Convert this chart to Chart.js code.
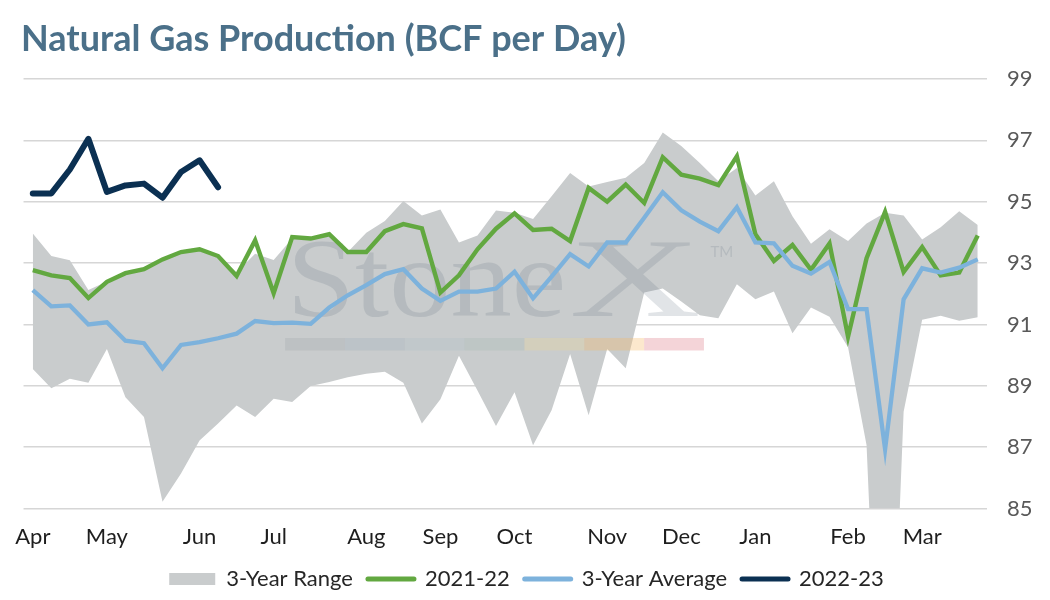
<!DOCTYPE html>
<html>
<head>
<meta charset="utf-8">
<script src="https://cdn.jsdelivr.net/npm/chart.js@4.4.1/dist/chart.umd.min.js"></script>
<style>
html,body{margin:0;padding:0;background:#ffffff;}
#wrap{width:1050px;height:600px;position:relative;}
</style>
</head>
<body>
<div id="wrap"><canvas id="c"></canvas></div>
<script>
// ---- DATA ----
const categories = [
  'Apr','','','','May','','','','','Jun','','','','Jul','','','','','Aug','','','',
  'Sep','','','','Oct','','','','','Nov','','','','Dec','','','','Jan','','','','',
  'Feb','','','','Mar','','',''
];
const rangeMax = [
  93.96,93.23,93.09,92.12,92.40,92.66,92.78,93.10,93.34,93.43,93.22,92.70,93.30,
  93.10,93.80,93.78,93.90,93.36,93.99,94.37,95.02,94.55,94.75,93.67,93.90,94.71,
  94.64,94.44,95.18,95.94,95.50,95.64,95.78,96.26,97.26,96.82,96.26,95.67,96.10,
  95.20,95.67,94.53,93.63,94.10,93.72,94.29,94.64,94.55,93.77,94.17,94.69,94.24
];
const rangeMin = [
  89.55,88.92,89.23,89.10,90.20,88.63,87.98,85.22,86.14,87.22,87.77,88.36,87.98,
  88.58,88.47,88.99,89.12,89.28,89.39,89.46,89.10,87.77,88.56,89.98,88.85,87.69,
  88.79,87.06,88.20,90.04,88.04,90.20,89.57,92.04,92.17,91.75,91.30,91.20,92.31,
  91.82,92.07,90.71,91.55,91.25,90.26,87.06,73.00,88.15,91.15,91.28,91.12,91.23
];
const prod2021_22 = [
  92.77,92.60,92.51,91.86,92.39,92.67,92.80,93.12,93.36,93.45,93.23,92.58,93.74,
  92.02,93.85,93.80,93.94,93.36,93.36,94.04,94.27,94.13,92.04,92.60,93.45,94.12,
  94.62,94.08,94.12,93.72,95.45,95.00,95.56,94.96,96.45,95.88,95.75,95.54,96.48,
  93.94,93.07,93.59,92.78,93.64,90.60,93.16,94.67,92.71,93.52,92.60,92.69,93.90
];
const avg3Year = [
  92.12,91.59,91.62,91.00,91.07,90.47,90.39,89.57,90.33,90.42,90.55,90.70,91.11,
  91.04,91.06,91.02,91.55,91.95,92.28,92.64,92.80,92.17,91.77,92.07,92.07,92.17,
  92.72,91.85,92.56,93.29,92.89,93.67,93.67,94.48,95.31,94.72,94.35,94.04,94.82,
  93.67,93.64,92.91,92.66,93.04,91.50,91.50,86.93,91.82,92.83,92.69,92.85,93.12
];
const prod2022_23 = [
  95.27,95.27,96.05,97.05,95.32,95.53,95.59,95.13,95.97,96.35,95.47
];
const yMin = 85, yMax = 99, yStep = 2;

// ---- STYLE ----
const FONT = 'Lato';
const COL_BAND = '#c9cccd';
const COL_GREEN = '#62a840';
const COL_BLUE = '#7db2dc';
const COL_NAVY = '#0b3052';

const watermark = {
  id: 'watermark',
  afterDatasetDraw(chart, args) {
    if (args.index !== 0) return;
    const ca = chart.chartArea;
    const ctx = chart.ctx;
    const W = ca.right - ca.left, H = ca.bottom - ca.top;
    ctx.save();
    ctx.fillStyle = 'rgba(95,110,130,0.19)';
    ctx.font = '112px "Liberation Serif"';
    ctx.textBaseline = 'alphabetic';
    const base = ca.top + 0.552 * H;
    const w1 = ctx.measureText('Stone').width;
    ctx.save();
    ctx.translate(ca.left + 0.2733 * W, base);
    ctx.scale((0.2900 * W) / w1, 1);
    ctx.fillText('Stone', 0, 0);
    ctx.restore();
    const w2 = ctx.measureText('X').width;
    ctx.save();
    ctx.translate(ca.left + 0.5663 * W, base);
    ctx.scale((0.1366 * W) / w2, 1);
    ctx.fillText('X', 0, 0);
    ctx.restore();
    ctx.font = '15px ' + FONT;
    ctx.fillText('TM', ca.left + 0.713 * W, ca.top + 0.415 * H);
    const strip = [
      'rgba(110,118,126,0.12)','rgba(100,135,165,0.12)','rgba(150,180,196,0.15)',
      'rgba(115,160,140,0.12)','rgba(242,217,138,0.25)','rgba(245,184,98,0.32)',
      'rgba(217,112,126,0.30)'
    ];
    const sx = ca.left + 0.2715 * W, sw = 0.0621 * W, sy = ca.top + 0.603 * H;
    strip.forEach((c, i) => {
      ctx.fillStyle = c;
      ctx.fillRect(sx + i * sw, sy, sw, 12.5);
    });
    ctx.restore();
  }
};

const ctxEl = document.getElementById('c');
new Chart(ctxEl, {
  type: 'line',
  data: {
    labels: categories,
    datasets: [
      {
        label: '3-Year Range', data: rangeMax, legendBox: true,
        backgroundColor: COL_BAND, borderColor: 'rgba(0,0,0,0)', borderWidth: 0,
        pointRadius: 0, fill: '+1', order: 4
      },
      {
        label: 'range-min', data: rangeMin, hideInLegend: true,
        backgroundColor: COL_BAND, borderColor: 'rgba(0,0,0,0)', borderWidth: 0,
        pointRadius: 0, fill: false, order: 5
      },
      {
        label: '2021-22', data: prod2021_22, borderColor: COL_GREEN, backgroundColor: COL_GREEN,
        borderWidth: 4.4, pointRadius: 0, fill: false, order: 2, tension: 0
      },
      {
        label: '3-Year Average', data: avg3Year, borderColor: COL_BLUE, backgroundColor: COL_BLUE,
        borderWidth: 4.3, pointRadius: 0, fill: false, order: 1, tension: 0
      },
      {
        label: '2022-23', data: prod2022_23, borderColor: COL_NAVY, backgroundColor: COL_NAVY,
        borderWidth: 6, pointRadius: 0, fill: false, order: 0, tension: 0,
        borderCapStyle: 'round', borderJoinStyle: 'round'
      }
    ]
  },
  options: {
    responsive: true,
    maintainAspectRatio: false,
    animation: false,
    events: [],
    layout: { padding: { left: 21, right: 18, top: 0, bottom: 0 } },
    scales: {
      x: {
        type: 'category',
        offset: true,
        grid: { display: false, drawTicks: false },
        border: { display: false },
        ticks: {
          autoSkip: false, maxRotation: 0, minRotation: 0, padding: 15,
          color: '#1e1e1e', font: { family: FONT, size: 22 }
        },
        afterFit(scale) { scale.height = 44.5; }
      },
      y: {
        position: 'right',
        min: yMin, max: yMax,
        grid: { color: '#d6d6d6', lineWidth: 1.6, drawTicks: false },
        border: { display: false },
        ticks: {
          stepSize: yStep, padding: 20,
          color: '#595959', font: { family: FONT, size: 22 }
        },
        afterFit(scale) { scale.width = 45; }
      }
    },
    plugins: {
      tooltip: { enabled: false },
      title: {
        display: true,
        text: 'Natural Gas Production (BCF per Day)',
        align: 'start',
        color: '#4b7089',
        font: { family: FONT, size: 36, weight: 'bold' },
        padding: { top: 18, bottom: 17.8 }
      },
      legend: {
        display: true,
        position: 'bottom',
        labels: {
          usePointStyle: true,
          pointStyleWidth: 46,
          boxHeight: 12,
          padding: 15,
          color: '#262626',
          font: { family: FONT, size: 22 },
          generateLabels(chart) {
            const out = [];
            chart.data.datasets.forEach((ds, i) => {
              if (ds.hideInLegend) return;
              out.push({
                text: ds.label,
                fillStyle: ds.legendBox ? ds.backgroundColor : ds.borderColor,
                strokeStyle: ds.legendBox ? ds.backgroundColor : ds.borderColor,
                lineWidth: ds.legendBox ? 0 : 5,
                pointStyle: ds.legendBox ? 'rect' : 'line',
                lineCap: 'round',
                hidden: false,
                datasetIndex: i,
                fontColor: '#262626'
              });
            });
            return out;
          }
        }
      }
    }
  },
  plugins: [watermark]
});
</script>
</body>
</html>
